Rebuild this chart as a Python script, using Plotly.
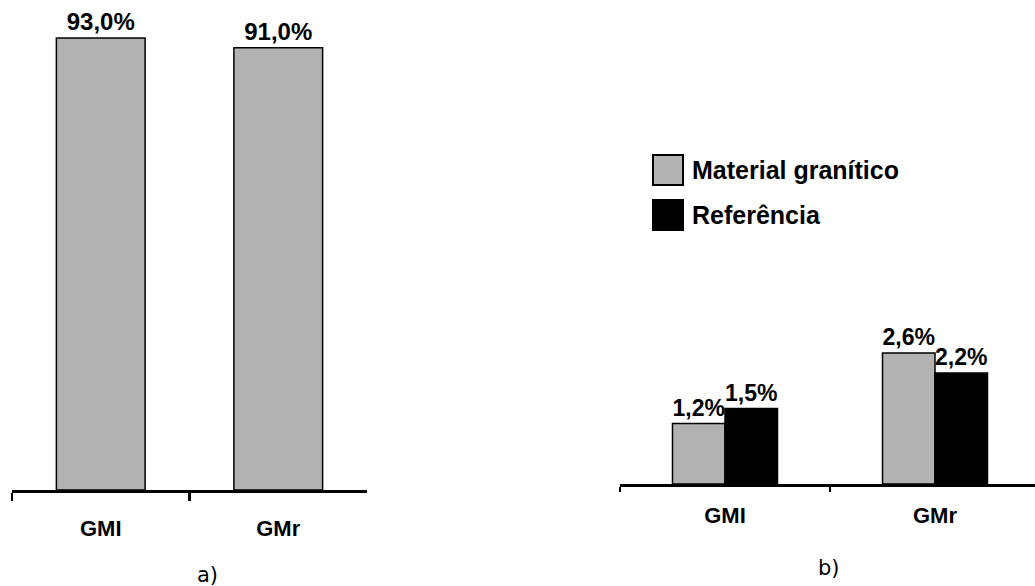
import plotly.graph_objects as go

W, H = 1035, 586

categories = ["GMI", "GMr"]
a_values = [93.0, 91.0]
b_granitico = [1.2, 2.6]
b_referencia = [1.5, 2.2]
series_names = ["Material granítico", "Referência"]
panel_labels = ["a)", "b)"]

GRAY = "#B2B2B2"
BOLD = "Liberation Sans, Arial, sans-serif"


def fmt(v):
    return f"{v:.1f}%".replace(".", ",")


def px_x(x):
    return x / W


def px_y(y):
    return 1 - y / H


fig = go.Figure()

fig.add_trace(go.Bar(
    x=categories, y=a_values, name=series_names[0],
    marker=dict(color=GRAY, line=dict(color="black", width=1.5)),
    text=[fmt(v) for v in a_values], textposition="outside",
    textfont=dict(family=BOLD, size=24, color="black", weight="bold"),
    cliponaxis=False, showlegend=False, xaxis="x", yaxis="y",
))

fig.add_trace(go.Bar(
    x=categories, y=b_granitico, name=series_names[0],
    marker=dict(color=GRAY, line=dict(color="black", width=1.5)),
    text=[fmt(v) for v in b_granitico], textposition="outside",
    textfont=dict(family=BOLD, size=24, color="black", weight="bold"),
    cliponaxis=False, showlegend=False, xaxis="x2", yaxis="y2",
))
fig.add_trace(go.Bar(
    x=categories, y=b_referencia, name=series_names[1],
    marker=dict(color="black", line=dict(color="black", width=1.5)),
    text=[fmt(v) for v in b_referencia], textposition="outside",
    textfont=dict(family=BOLD, size=24, color="black", weight="bold"),
    cliponaxis=False, showlegend=False, xaxis="x2", yaxis="y2",
))

axis_common = dict(
    type="category", showline=True, linecolor="black", showgrid=False,
    zeroline=False, tickson="boundaries", ticks="outside", tickcolor="black",
    tickfont=dict(family=BOLD, size=22, color="black", weight="bold"),
    fixedrange=True,
)

fig.update_layout(
    width=W, height=H,
    margin=dict(l=0, r=0, t=0, b=0),
    paper_bgcolor="white", plot_bgcolor="white",
    barmode="group", bargap=0.5, bargroupgap=0,
    showlegend=False,
    xaxis=dict(domain=[px_x(12), px_x(367)], range=[-0.5, 1.5],
               linewidth=2.5, ticklen=8, tickwidth=2.5,
               ticklabelstandoff=17, anchor="y", **axis_common),
    yaxis=dict(domain=[px_y(490), px_y(4)], range=[0, 100], visible=False,
               anchor="x"),
    xaxis2=dict(domain=[px_x(620), 1], range=[-0.5, -0.5 + 415 / 210],
                linewidth=2.5, ticklen=5, tickwidth=2.5,
                ticklabelstandoff=10, anchor="y2", **axis_common),
    yaxis2=dict(domain=[px_y(484), px_y(484 - 4 * 50.4)], range=[0, 4],
                visible=False, anchor="x2"),
)

# panel labels
for lbl, (cx, cy) in zip(panel_labels, [(207, 575), (829, 568)]):
    fig.add_annotation(x=px_x(cx), y=px_y(cy), xref="paper", yref="paper",
                       text=lbl, showarrow=False, xanchor="center", yanchor="middle",
                       font=dict(family="DejaVu Sans, sans-serif", size=21, color="black"))

# legend drawn manually (large square swatches)
legend_rows = [(170, GRAY), (215, "black")]
for name, (cy, col) in zip(series_names, legend_rows):
    fig.add_shape(type="rect", xref="paper", yref="paper",
                  x0=px_x(653), x1=px_x(683), y0=px_y(cy + 15), y1=px_y(cy - 15),
                  fillcolor=col, line=dict(color="black", width=2))
    fig.add_annotation(x=px_x(690), y=px_y(cy), xref="paper", yref="paper",
                       text=name, showarrow=False, xanchor="left", yanchor="middle",
                       font=dict(family=BOLD, size=25, color="black", weight="bold"))

fig.write_html("out.html",
               config={"displayModeBar": False, "staticPlot": True},
               post_script="document.body.style.margin='0';document.body.style.overflow='hidden';")
